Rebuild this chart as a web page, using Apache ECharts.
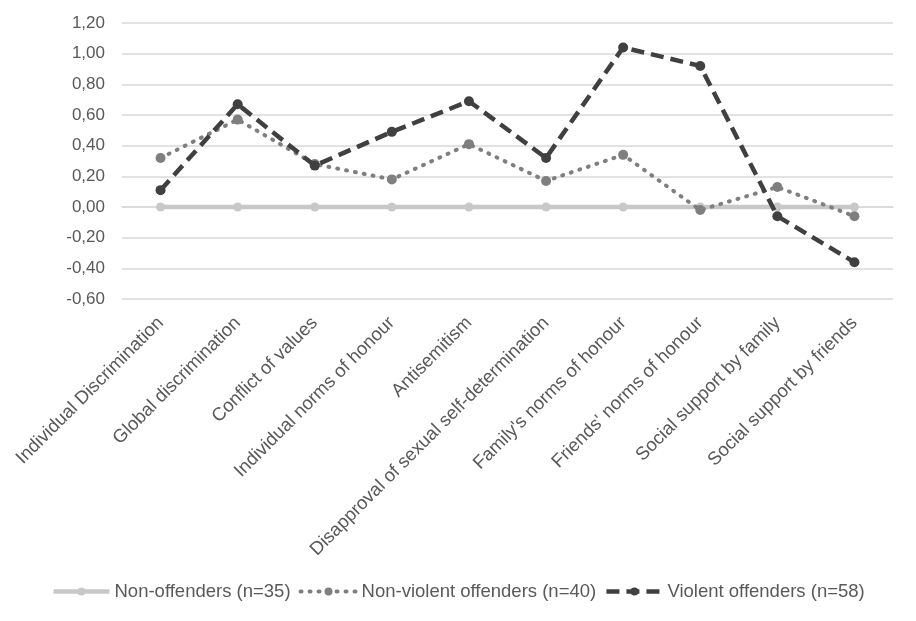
<!DOCTYPE html>
<html>
<head>
<meta charset="utf-8">
<script src="https://cdn.jsdelivr.net/npm/echarts@6/dist/echarts.min.js"></script>
<style>
  html, body { margin: 0; padding: 0; background: #fff; }
  #chart { width: 916px; height: 621px; }
</style>
</head>
<body>
<div id="chart"></div>
<script>
const categories = [
  'Individual Discrimination', 'Global discrimination', 'Conflict of values',
  'Individual norms of honour', 'Antisemitism', 'Disapproval of sexual self-determination',
  "Family's norms of honour", "Friends' norms of honour", 'Social support by family',
  'Social support by friends'
]
const nonOffenders = [0, 0, 0, 0, 0, 0, 0, 0, 0, 0]
const nonViolent = [0.32, 0.57, 0.28, 0.18, 0.41, 0.17, 0.34, -0.02, 0.13, -0.06]
const violent = [0.11, 0.67, 0.27, 0.49, 0.69, 0.32, 1.04, 0.92, -0.06, -0.36]

const chart = echarts.init(document.getElementById('chart'))
const font = 'Liberation Sans, Arial, sans-serif'

chart.setOption({
  backgroundColor: '#fff',
  animation: false,
  textStyle: { fontFamily: font },
  legend: {
    bottom: 15,
    left: 'center',
    itemWidth: 56,
    itemHeight: 10,
    itemGap: 8,
    textStyle: { color: '#595959', fontSize: 18.5, fontFamily: font },
    data: [
      { name: 'Non-offenders (n=35)', lineStyle: { width: 4.5 } },
      { name: 'Non-violent offenders (n=40)', lineStyle: { width: 4 } },
      { name: 'Violent offenders (n=58)', lineStyle: { width: 4.5 } },
    ],
  },
  grid: { left: 122, right: 23, top: 23, bottom: 322, containLabel: false },
  xAxis: {
    type: 'category', data: categories, boundaryGap: true,
    axisLine: { lineStyle: { color: '#d9d9d9', width: 1.5 } },
    axisTick: { show: false },
    axisLabel: { rotate: 45, color: '#595959', fontSize: 18.5, fontFamily: font, interval: 0, margin: 21 },
  },
  yAxis: {
    type: 'value', min: -0.6, max: 1.2, interval: 0.2,
    axisLine: { show: false },
    axisTick: { show: false },
    axisLabel: {
      color: '#595959', fontSize: 17, fontFamily: font, margin: 17,
      formatter: v => v.toFixed(2).replace('.', ','),
    },
    splitLine: { lineStyle: { color: '#d9d9d9', width: 1.5 } },
  },
  series: [
    {
      name: 'Non-offenders (n=35)', type: 'line', data: nonOffenders,
      lineStyle: { color: '#c8c8c8', width: 4.5 },
      itemStyle: { color: '#c8c8c8' },
      symbol: 'circle', symbolSize: 9, z: 1,
    },
    {
      name: 'Non-violent offenders (n=40)', type: 'line', data: nonViolent,
      lineStyle: { color: '#7f7f7f', width: 4, type: [1, 8], cap: 'round' },
      itemStyle: { color: '#7f7f7f' },
      symbol: 'circle', symbolSize: 10, z: 2,
    },
    {
      name: 'Violent offenders (n=58)', type: 'line', data: violent,
      lineStyle: { color: '#404040', width: 4.5, type: [13, 7] },
      itemStyle: { color: '#404040' },
      symbol: 'circle', symbolSize: 10, z: 3,
    },
  ],
})
</script>
</body>
</html>
